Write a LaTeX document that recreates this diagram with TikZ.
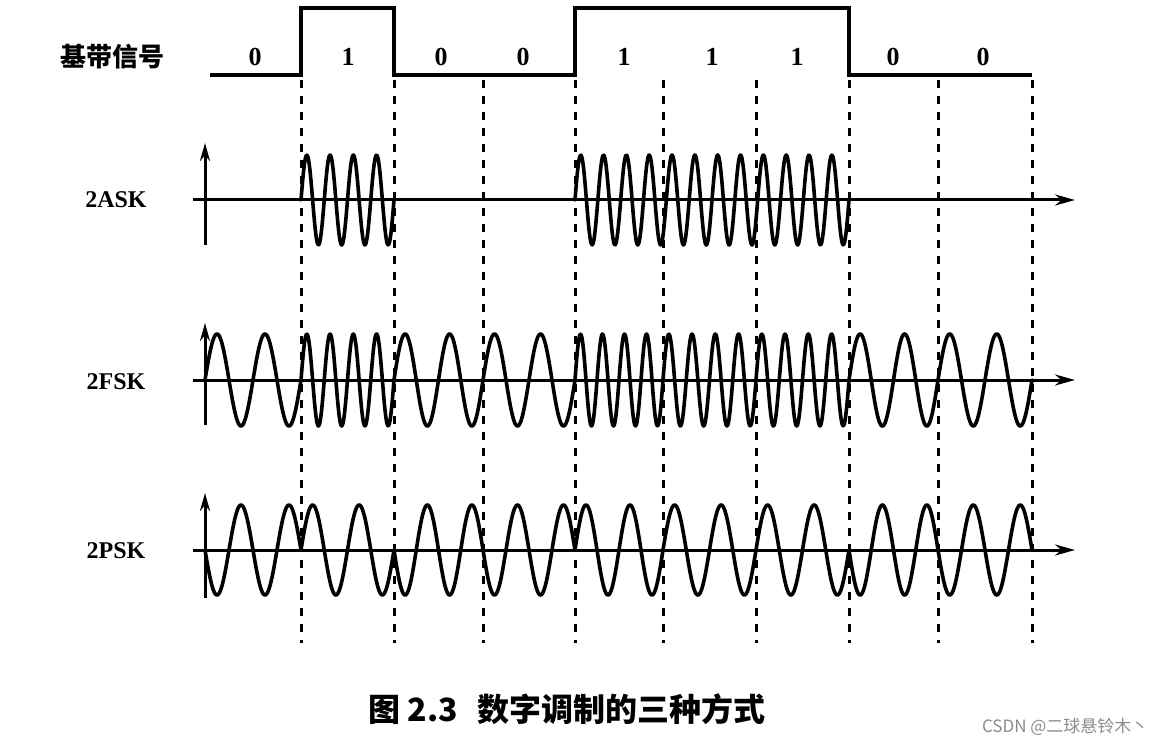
\documentclass[tikz,border=0pt]{standalone}
\usepackage{fontspec}
\setmainfont{Liberation Serif}
\newfontfamily\cjk{Noto Sans CJK SC}
\usetikzlibrary{arrows.meta}
\begin{document}
\begin{tikzpicture}[x=1pt,y=-1pt,
  wave/.style={line width=3.6pt, line join=round, line cap=round},
  base/.style={line width=3.4pt, line join=miter},
  axisline/.style={line width=3pt, -{Stealth[length=20pt,width=11pt]}},
  vaxis/.style={line width=3pt, -{Stealth[length=18pt,width=10pt]}},
  guide/.style={line width=3pt, dash pattern=on 8pt off 8pt},
  lbl/.style={font=\fontsize{24}{24}\selectfont\bfseries},
  bitlbl/.style={font=\fontsize{26}{26}\selectfont\bfseries},
  cjklbl/.style={font=\cjk\fontsize{26}{26}\selectfont\bfseries},
]
\useasboundingbox (0,0) rectangle (1159,746);

% baseband signal
\draw[base] (210,75) -- (301,75) -- (301,8) -- (394,8) -- (394,75) -- (575,75)
  -- (575,8) -- (849,8) -- (849,75) -- (1032,75);
\node[cjklbl] (lbase) at (112,57) {基带信号};
\foreach \p/\v [count=\i] in {255/0,348/1,441/0,523/0,624/1,712/1,797/1,893/0,983/0}
  \node[bitlbl] (bit\i) at (\p,57) {\v};

% dashed guides
\foreach \p [count=\i] in {301,394,483,575,663,756,849,938,1032}
  \draw[guide] (\p,80) -- (\p,643);

% axes
\coordinate (askL) at (193,200); \coordinate (askR) at (1075,200);
\coordinate (askB) at (205,245); \coordinate (askT) at (205,143);
\coordinate (fskL) at (193,380); \coordinate (fskR) at (1075,380);
\coordinate (fskB) at (205,425); \coordinate (fskT) at (205,323);
\coordinate (pskL) at (193,550); \coordinate (pskR) at (1075,550);
\coordinate (pskB) at (205,598); \coordinate (pskT) at (205,493);
\draw[axisline] (askL) -- (askR);
\draw[vaxis] (askB) -- (askT);
\draw[axisline] (fskL) -- (fskR);
\draw[vaxis] (fskB) -- (fskT);
\draw[axisline] (pskL) -- (pskR);
\draw[vaxis] (pskB) -- (pskT);

\node[lbl] (lask) at (116,200) {2ASK};
\node[lbl] (lfsk) at (116,382) {2FSK};
\node[lbl] (lpsk) at (116,551) {2PSK};

% 2ASK
\draw[wave] plot[domain=301:394, samples=120, smooth] (\x, {200-45*sin((\x-301)/93*1440)});
\draw[wave] plot[domain=575:849, samples=360, smooth] (\x, {200-45*sin((\x-575)/274*4320)});

% 2FSK
\foreach \a/\b/\n in {205/301/2, 301/394/4, 394/483/2, 483/575/2, 575/663/4, 663/756/4, 756/849/4, 849/938/2, 938/1032/2}
  \draw[wave] plot[domain=\a:\b, samples=120, smooth] (\x, {380-46*sin((\x-\a)/(\b-\a)*\n*360)});

% 2PSK
\foreach \a/\b/\s in {205/301/-1, 301/394/1, 394/483/-1, 483/575/-1, 575/663/1, 663/756/1, 756/849/1, 849/938/-1, 938/1032/-1}
  \draw[wave] plot[domain=\a:\b, samples=120, smooth] (\x, {550-(\s)*45*sin((\x-\a)/(\b-\a)*720)});

% caption
\node[font=\cjk\fontsize{32}{32}\selectfont\bfseries] (cap) at (567,709) {图 2.3\hspace{20pt}数字调制的三种方式};
\node[font=\cjk\fontsize{17}{17}\selectfont, text=black!45, anchor=east] (wm) at (1152,727) {CSDN @二球悬铃木丶};
\end{tikzpicture}
\end{document}
